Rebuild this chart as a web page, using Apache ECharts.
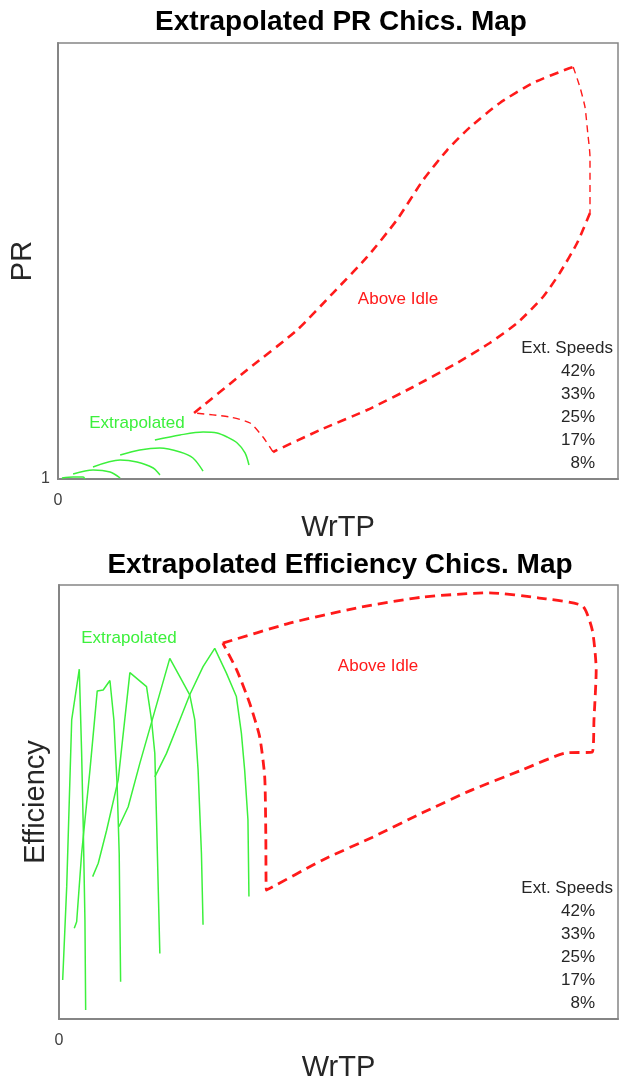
<!DOCTYPE html>
<html>
<head>
<meta charset="utf-8">
<script src="https://cdn.jsdelivr.net/npm/echarts@6/dist/echarts.min.js"></script>
<style>
  html, body { margin: 0; padding: 0; background: #fff; }
  #chart { width: 619px; height: 1081px; }
</style>
</head>
<body>
<div id="chart"></div>
<script>
// Extrapolated speed lines, listed from highest to lowest speed
const speeds = ['42%', '33%', '25%', '17%', '8%'];

// PR map: extrapolated speed lines, [WrTP, PR]
const prExt42 = [[17.3, 1.358], [21.8, 1.404], [25.9, 1.431], [28.4, 1.422], [30.2, 1.385], [32.0, 1.330], [33.4, 1.239], [34.1, 1.128]];
const prExt33 = [[11.1, 1.220], [14.6, 1.266], [18.2, 1.284], [21.8, 1.248], [24.1, 1.193], [25.9, 1.073]];
const prExt25 = [[6.25, 1.110], [11.1, 1.174], [14.1, 1.156], [17.0, 1.101], [18.2, 1.037]];
const prExt17 = [[2.7, 1.046], [6.25, 1.083], [9.3, 1.064], [11.1, 1.009]];
const prExt8 = [[0.7, 1.009], [2.7, 1.018], [4.5, 1.018], [4.8, 1.0]];

// PR map: above-idle envelope, in four edges
const prIdleUpper = [[24.3, 1.606], [33.75, 2.0], [42.7, 2.367], [49.1, 2.706], [55.2, 3.037], [60.5, 3.376], [65.2, 3.743], [69.5, 4.018], [73.6, 4.229], [78.9, 4.45], [84.8, 4.633], [91.4, 4.771], [92.0, 4.78]];
const prIdleRight = [[92.0, 4.78], [93.2, 4.596], [94.1, 4.413], [94.6, 4.174], [95.0, 3.954], [95.0, 3.44]];
const prIdleLower = [[95.0, 3.44], [92.7, 3.165], [89.6, 2.89], [86.6, 2.67], [82.0, 2.431], [77.1, 2.248], [71.25, 2.064], [63.4, 1.844], [55.2, 1.633], [46.8, 1.45], [38.4, 1.248]];
const prIdleLeft = [[38.4, 1.248], [36.6, 1.385], [34.3, 1.514], [30.7, 1.569], [24.3, 1.606]];

// Efficiency map: extrapolated speed lines, [WrTP, efficiency]
const effExt42 = [[17.14, 0.558], [19.23, 0.612], [21.61, 0.689], [23.39, 0.747], [25.77, 0.812], [27.86, 0.854], [29.95, 0.797], [31.73, 0.743], [32.63, 0.658], [33.21, 0.574], [33.80, 0.459], [33.98, 0.282]];
const effExt33 = [[10.71, 0.443], [12.38, 0.489], [14.46, 0.589], [19.82, 0.831], [21.61, 0.789], [23.39, 0.747], [24.29, 0.689], [24.88, 0.574], [25.48, 0.382], [25.77, 0.217]];
const effExt25 = [[6.02, 0.328], [7.02, 0.359], [8.52, 0.435], [10.59, 0.551], [12.68, 0.798], [15.66, 0.766], [16.55, 0.689], [17.14, 0.612], [17.45, 0.459], [18.04, 0.151]];
const effExt17 = [[2.73, 0.209], [3.16, 0.224], [4.05, 0.382], [5.54, 0.574], [6.84, 0.756], [7.91, 0.758], [9.11, 0.780], [9.82, 0.689], [10.41, 0.535], [10.77, 0.382], [11.02, 0.086]];
const effExt8 = [[0.66, 0.090], [1.38, 0.305], [2.27, 0.689], [3.63, 0.806], [4.05, 0.612], [4.34, 0.443], [4.64, 0.228], [4.77, 0.021]];

// Efficiency map: above-idle envelope (closed loop)
const effIdle = [[29.3, 0.866], [41.25, 0.912], [53.2, 0.947], [65.0, 0.972], [77.0, 0.982], [85.9, 0.970], [93.6, 0.952], [95.4, 0.896], [96.1, 0.804], [95.7, 0.689], [95.4, 0.615], [90.7, 0.613], [82.9, 0.574], [73.9, 0.528], [65.0, 0.475], [56.1, 0.419], [47.1, 0.366], [37.1, 0.297], [37.0, 0.419], [36.8, 0.558], [35.9, 0.650], [34.1, 0.728], [31.8, 0.804], [29.3, 0.866]];

// Axis ranges and tick labels
const wrtpRange = [0, 100];
const prRange = [1, 5];
const effRange = [0, 1];
const wrtpTicks = [0];
const prTicks = [1];

const FONT = "'Liberation Sans', Arial, Helvetica, sans-serif";
const GREEN = '#3cf03c';
const RED = '#ff1a1a';
const AXIS = '#858585';
const TEXT = '#262626';

const chart = echarts.init(document.getElementById('chart'), null, { renderer: 'canvas' });

function greenLine(name, data, axisIdx, smooth) {
  return {
    name, type: 'line', data, xAxisIndex: axisIdx, yAxisIndex: axisIdx,
    showSymbol: false, smooth: smooth ? 0.3 : false,
    lineStyle: { color: GREEN, width: 1.5 }, silent: true, z: 3
  };
}
function redLine(data, axisIdx, width, dash) {
  return {
    type: 'line', data, xAxisIndex: axisIdx, yAxisIndex: axisIdx,
    showSymbol: false, smooth: 0.2,
    lineStyle: { color: RED, width, type: dash }, silent: true, z: 4
  };
}

const prLines = [prExt42, prExt33, prExt25, prExt17, prExt8];
const effLines = [effExt42, effExt33, effExt25, effExt17, effExt8];

const series = [];
speeds.forEach((s, i) => series.push(greenLine(s, prLines[i], 0, true)));
series.push(redLine(prIdleUpper, 0, 2.6, [9, 6]));
series.push(redLine(prIdleRight, 0, 1.4, [7, 5]));
series.push(redLine(prIdleLower, 0, 2.6, [9, 6]));
series.push(redLine(prIdleLeft, 0, 1.4, [7, 5]));
speeds.forEach((s, i) => series.push(greenLine(s, effLines[i], 1, false)));
series.push(redLine(effIdle, 1, 2.8, [10, 6]));

function text(x, y, str, opts) {
  return {
    type: 'text', x, y, silent: true,
    style: Object.assign({
      text: str, font: '17px ' + FONT, fill: TEXT,
      textAlign: 'center', textVerticalAlign: 'middle'
    }, opts || {})
  };
}

// speed list beside each map
function speedList(rightX, titleY) {
  const items = [text(613, titleY, 'Ext. Speeds', { textAlign: 'right' })];
  speeds.forEach((s, i) => items.push(text(rightX, titleY + 23 * (i + 1), s, { textAlign: 'right' })));
  return items;
}

const graphics = [
  text(341, 22, 'Extrapolated PR Chics. Map', { font: 'bold 28px ' + FONT, fill: '#000' }),
  text(340, 565, 'Extrapolated Efficiency Chics. Map', { font: 'bold 28px ' + FONT, fill: '#000' }),
  text(137, 423, 'Extrapolated', { fill: GREEN }),
  text(398, 299, 'Above Idle', { fill: RED }),
  text(129, 638, 'Extrapolated', { fill: GREEN }),
  text(378, 666, 'Above Idle', { fill: RED })
].concat(speedList(595, 348), speedList(595, 888));

function xAxis(gridIndex) {
  return {
    type: 'value', gridIndex, min: wrtpRange[0], max: wrtpRange[1],
    name: 'WrTP', nameLocation: 'middle', nameGap: 34,
    nameTextStyle: { fontSize: 29, color: TEXT, fontFamily: FONT },
    axisLine: { show: true, lineStyle: { color: AXIS, width: 2 } },
    axisTick: { show: false }, splitLine: { show: false },
    axisLabel: { customValues: wrtpTicks, fontSize: 16, color: '#404040', margin: 14, fontFamily: FONT }
  };
}

const option = {
  animation: false,
  backgroundColor: '#fff',
  grid: [
    { left: 58, top: 43, width: 560, height: 436, show: true, borderColor: AXIS, borderWidth: 1.5, outerBoundsMode: 'none', containLabel: false },
    { left: 59, top: 585, width: 559, height: 434, show: true, borderColor: AXIS, borderWidth: 1.5, outerBoundsMode: 'none', containLabel: false }
  ],
  xAxis: [xAxis(0), xAxis(1)],
  yAxis: [
    {
      type: 'value', gridIndex: 0, min: prRange[0], max: prRange[1],
      name: 'PR', nameLocation: 'middle', nameGap: 21, nameMoveOverlap: false,
      nameTextStyle: { fontSize: 29, color: TEXT, fontFamily: FONT },
      axisLine: { show: true, lineStyle: { color: AXIS, width: 2 } },
      axisTick: { show: false }, splitLine: { show: false },
      axisLabel: { customValues: prTicks, fontSize: 16, color: '#404040', margin: 8, fontFamily: FONT }
    },
    {
      type: 'value', gridIndex: 1, min: effRange[0], max: effRange[1],
      name: 'Efficiency', nameLocation: 'middle', nameGap: 9,
      nameTextStyle: { fontSize: 29, color: TEXT, fontFamily: FONT },
      axisLine: { show: true, lineStyle: { color: AXIS, width: 2 } },
      axisTick: { show: false }, splitLine: { show: false },
      axisLabel: { show: false }
    }
  ],
  graphic: graphics,
  series
};

chart.setOption(option);
</script>
</body>
</html>
